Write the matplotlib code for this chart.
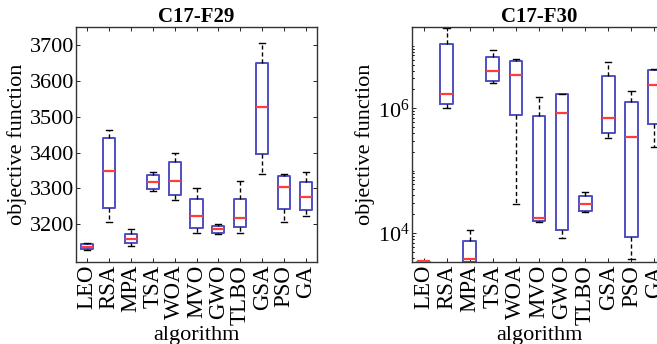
import matplotlib
matplotlib.use("Agg")
import matplotlib.pyplot as plt
from matplotlib.ticker import LogLocator, NullFormatter

plt.rcParams['font.family'] = ['Liberation Serif', 'DejaVu Serif']
plt.rcParams['mathtext.fontset'] = 'stix'

algos = ["LEO", "RSA", "MPA", "TSA", "WOA", "MVO", "GWO", "TLBO", "GSA", "PSO", "GA"]

# C17-F29 box stats
f29_lo = [3128, 3207, 3140, 3294, 3268, 3175, 3173, 3175, 3339, 3207, 3224]
f29_q1 = [3131, 3245, 3149, 3299, 3282, 3189, 3177, 3193, 3396, 3242, 3240]
f29_med = [3138, 3350, 3160, 3318, 3322, 3224, 3186, 3217, 3527, 3305, 3275]
f29_q3 = [3144, 3440, 3172, 3338, 3375, 3270, 3196, 3270, 3650, 3336, 3318]
f29_hi = [3147, 3462, 3186, 3346, 3400, 3300, 3200, 3322, 3705, 3340, 3345]

# C17-F30 box stats
f30_lo = [3300, 1.0e6, 3300, 2.5e6, 2.9e4, 1.5e4, 8.3e3, 2.2e4, 3.3e5, 3.8e3, 2.4e5]
f30_q1 = [3350, 1.16e6, 3400, 2.73e6, 7.8e5, 1.54e4, 1.1e4, 2.27e4, 4.0e5, 8.6e3, 5.5e5]
f30_med = [3520, 1.67e6, 3840, 4.0e6, 3.4e6, 1.74e4, 8.3e5, 2.9e4, 6.9e5, 3.4e5, 2.33e6]
f30_q3 = [3400, 1.06e7, 7.5e3, 6.7e6, 5.8e6, 7.4e5, 1.68e6, 3.95e4, 3.25e6, 1.26e6, 4.06e6]
f30_hi = [3420, 1.9e7, 1.12e4, 8.6e6, 6.1e6, 1.5e6, 1.7e6, 4.5e4, 5.5e6, 1.9e6, 4.2e6]

box_col = '#4f4fc2'
med_col = '#ff3c3c'


def stats(lo, q1, med, q3, hi):
    return [dict(whislo=a, q1=b, med=c, q3=d, whishi=e, fliers=[], label=n)
            for a, b, c, d, e, n in zip(lo, q1, med, q3, hi, algos)]


def draw(ax, st, title):
    ax.bxp(st, widths=0.55, showfliers=False,
           boxprops=dict(color=box_col, lw=1.4),
           medianprops=dict(color=med_col, lw=1.6, zorder=3),
           whiskerprops=dict(color='black', lw=1.0, ls=(0, (3, 2))),
           capprops=dict(color='black', lw=1.0))
    ax.set_xlim(0.5, 11.5)
    ax.set_title(title, fontsize=15, fontweight='bold', pad=3)
    ax.set_xlabel("algorithm", fontsize=16, labelpad=1)
    ax.set_ylabel("objective function", fontsize=16, labelpad=2)
    ax.tick_params(axis='x', labelrotation=90, labelsize=16.5, pad=2)
    ax.tick_params(axis='y', labelsize=16, pad=1.5)
    ax.tick_params(which='both', direction='in', top=True, right=True, length=3, width=0.6)
    for s in ax.spines.values():
        s.set_linewidth(1.0)
        s.set_color('#333333')


fig = plt.figure(figsize=(6.57, 3.44), dpi=100)
ax1 = fig.add_axes([76 / 657, 82 / 344, 241 / 657, 235 / 344])
ax2 = fig.add_axes([412 / 657, 82 / 344, 254 / 657, 235 / 344])

draw(ax1, stats(f29_lo, f29_q1, f29_med, f29_q3, f29_hi), "C17-F29")
ax1.set_ylim(3095, 3750)
ax1.set_yticks([3200, 3300, 3400, 3500, 3600, 3700])

draw(ax2, stats(f30_lo, f30_q1, f30_med, f30_q3, f30_hi), "C17-F30")
ax2.set_yscale('log')
ax2.set_ylim(3440, 2.0e7)
ax2.yaxis.set_major_locator(LogLocator(base=100))
ax2.yaxis.set_minor_locator(LogLocator(base=10, subs=[2, 3, 4, 5, 6, 7, 8, 9, 10, 20, 30, 40, 50, 60, 70, 80, 90]))
ax2.yaxis.set_minor_formatter(NullFormatter())
ax2.tick_params(which='minor', length=1.5)

fig.savefig("out.png", dpi=100)
